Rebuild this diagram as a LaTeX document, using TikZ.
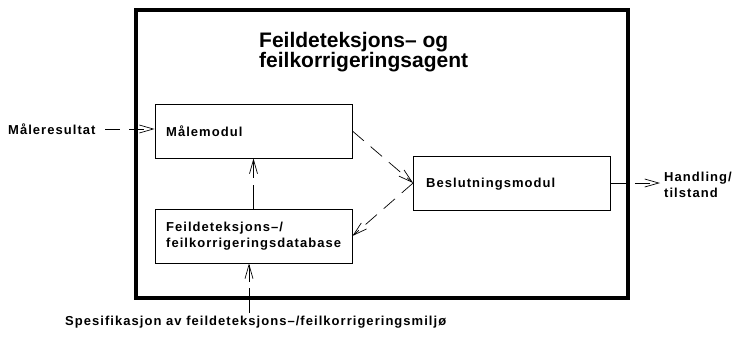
\documentclass[tikz,border=0pt]{standalone}
\usepackage{fontspec}
\setmainfont{Liberation Sans}
\newfontfamily\lblfont[LetterSpace=8]{Liberation Sans}
\usetikzlibrary{arrows.meta}
\tikzset{
  module/.style={draw, line width=0.8pt, minimum width=197pt, minimum height=54pt, inner sep=0pt},
  lbl/.style={font=\lblfont\bfseries\fontsize{13}{16.5}\selectfont, inner sep=0pt},
  flow/.style={line width=0.7pt, dash pattern=on 15pt off 9pt, -{Straight Barb[length=14pt,width=8pt,line width=0.7pt]}},
}
\begin{document}
\begin{tikzpicture}[x=1pt,y=-1pt]
\useasboundingbox (0,0) rectangle (733,341);
\draw[line width=4pt] (136,10) rectangle (628,298);
\node[font=\bfseries\fontsize{21}{20.5}\selectfont, align=left, anchor=north west, inner sep=0pt] (title) at (259,32) {Feildeteksjons– og\\feilkorrigeringsagent};
\node[module] (m) at (253.5,131) {};
\node[lbl, anchor=west] (mt) at (166,131) {Målemodul};
\node[module] (d) at (253.5,236) {};
\node[lbl, anchor=west, align=left] (dt) at (166,236) {Feildeteksjons–/\\feilkorrigeringsdatabase};
\node[module] (b) at (512,183) {};
\node[lbl, anchor=west] (bt) at (426,184) {Beslutningsmodul};
\node[lbl, anchor=west] (in) at (8,129) {Måleresultat};
\node[lbl, anchor=west, align=left] (out) at (664,185) {Handling/\\tilstand};
\node[lbl, anchor=north west] (spec) at (65,316) {Spesifikasjon av feildeteksjons–/feilkorrigeringsmiljø};
\coordinate (inS) at (105,129);
\coordinate (outE) at (660,183);
\coordinate (specS) at (249,313);
\draw[flow] (inS) -- (m.west |- inS);
\draw[flow] (m.east) -- (b.west);
\draw[flow] (b.west) -- (d.east);
\draw[flow, dash pattern=on 24pt off 7pt] (d.north) -- (m.south);
\draw[flow, dash pattern=on 25pt off 6pt] (specS) -- (specS |- d.south);
\draw[flow] (b.east) -- (outE);
\end{tikzpicture}
\end{document}
